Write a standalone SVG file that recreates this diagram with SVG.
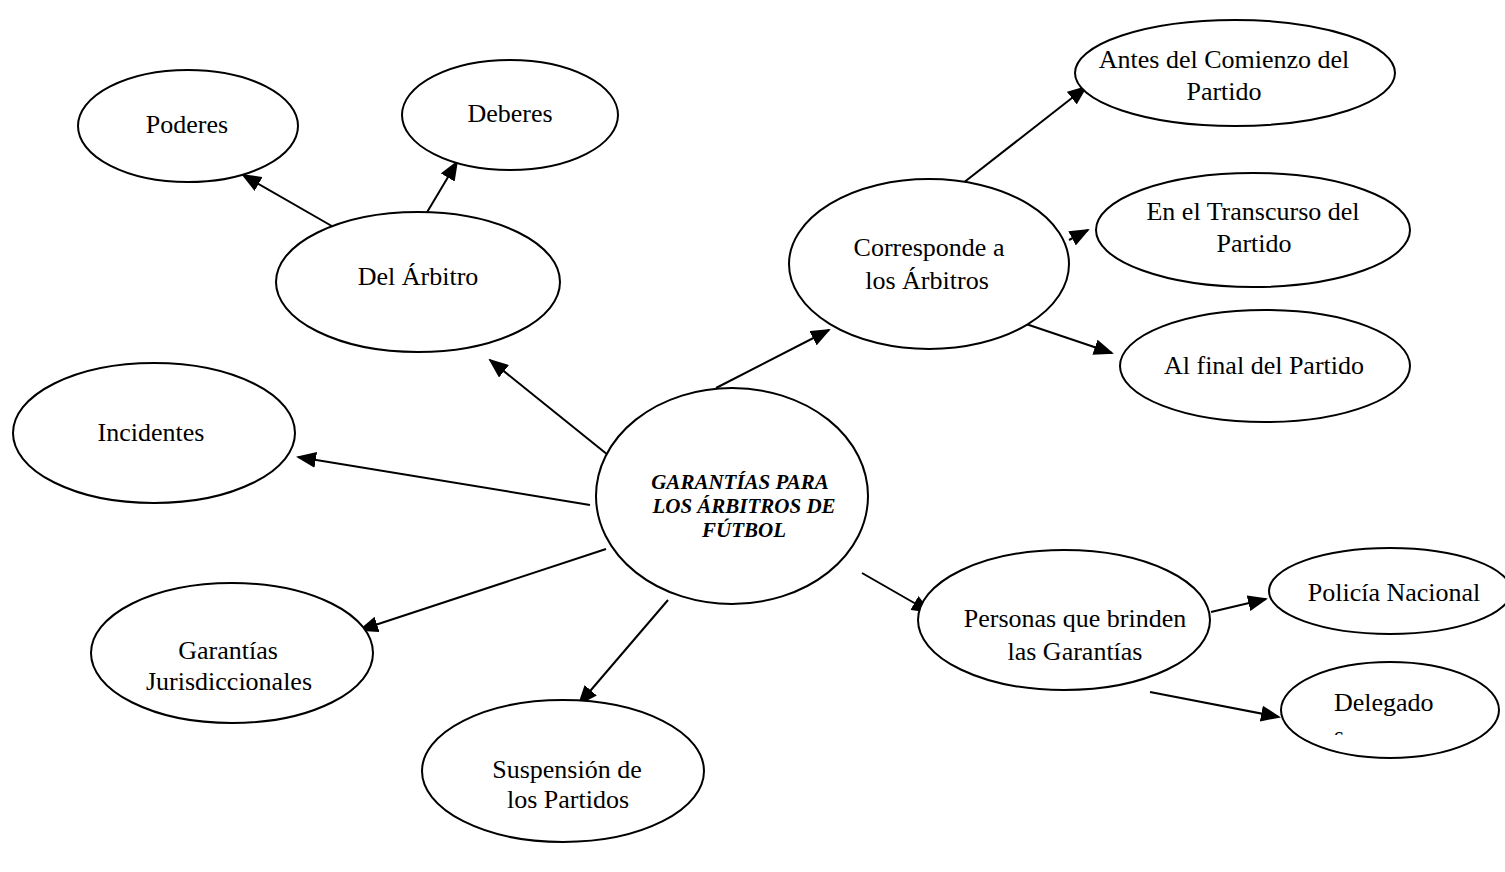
<svg xmlns="http://www.w3.org/2000/svg" width="1505" height="872" viewBox="0 0 1505 872">
<style>
.n ellipse{fill:#fff;stroke:#000;stroke-width:2}
.t{font-family:"Liberation Serif","Times New Roman",serif;font-size:26px;fill:#000;text-anchor:middle}
.c{font-family:"Liberation Serif","Times New Roman",serif;font-size:21px;font-weight:bold;font-style:italic;fill:#000;text-anchor:middle}
#edges line{stroke:#000;stroke-width:2;marker-end:url(#ah)}
</style>
<defs>
<marker id="ah" markerWidth="10" markerHeight="8" refX="9" refY="4" orient="auto" markerUnits="strokeWidth">
<path d="M0,0 L10,4 L0,8 Z" fill="#000"/>
</marker>
<clipPath id="delclip"><rect x="1280" y="660" width="220" height="75"/></clipPath>
</defs>
<rect width="1505" height="872" fill="#fff"/>
<g id="edges">
<line x1="337" y1="229" x2="243" y2="175"/>
<line x1="423" y1="219" x2="457" y2="162"/>
<line x1="608" y1="455" x2="490" y2="360"/>
<line x1="590" y1="505" x2="298" y2="457"/>
<line x1="606" y1="549" x2="360" y2="630"/>
<line x1="668" y1="600" x2="579" y2="704"/>
<line x1="716" y1="388" x2="829" y2="330"/>
<line x1="958" y1="187" x2="1086" y2="87"/>
<line x1="1069" y1="240" x2="1088" y2="230"/>
<line x1="1026" y1="324" x2="1112" y2="353"/>
<line x1="862" y1="573" x2="930" y2="612"/>
<line x1="1211" y1="612" x2="1266" y2="599"/>
<line x1="1150" y1="692" x2="1279" y2="717"/>
</g>
<g id="center" class="n"><ellipse cx="732" cy="496" rx="136" ry="108"/>
<text class="c" x="740" y="489">GARANTÍAS PARA</text>
<text class="c" x="744" y="513">LOS ÁRBITROS DE</text>
<text class="c" x="744" y="537">FÚTBOL</text></g>
<g id="poderes" class="n"><ellipse cx="188" cy="126" rx="110" ry="56"/><text class="t" x="187" y="133">Poderes</text></g>
<g id="deberes" class="n"><ellipse cx="510" cy="115" rx="108" ry="55"/><text class="t" x="510" y="122">Deberes</text></g>
<g id="arbitro" class="n"><ellipse cx="418" cy="282" rx="142" ry="70"/><text class="t" x="418" y="285">Del Árbitro</text></g>
<g id="incidentes" class="n"><ellipse cx="154" cy="433" rx="141" ry="70"/><text class="t" x="151" y="441">Incidentes</text></g>
<g id="garantias" class="n"><ellipse cx="232" cy="653" rx="141" ry="70"/><text class="t" x="228" y="659">Garantías</text><text class="t" x="229" y="690">Jurisdiccionales</text></g>
<g id="suspension" class="n"><ellipse cx="563" cy="771" rx="141" ry="71"/><text class="t" x="567" y="778">Suspensión de</text><text class="t" x="568" y="808">los Partidos</text></g>
<g id="corresponde" class="n"><ellipse cx="929" cy="264" rx="140" ry="85"/><text class="t" x="929" y="256">Corresponde a</text><text class="t" x="927" y="289">los Árbitros</text></g>
<g id="antes" class="n"><ellipse cx="1235" cy="73" rx="160" ry="53"/><text class="t" x="1224" y="68">Antes del Comienzo del</text><text class="t" x="1224" y="100">Partido</text></g>
<g id="transcurso" class="n"><ellipse cx="1253" cy="230" rx="157" ry="57"/><text class="t" x="1253" y="220">En el Transcurso del</text><text class="t" x="1254" y="252">Partido</text></g>
<g id="final" class="n"><ellipse cx="1265" cy="366" rx="145" ry="56"/><text class="t" x="1264" y="374">Al final del Partido</text></g>
<g id="personas" class="n"><ellipse cx="1064" cy="620" rx="146" ry="70"/><text class="t" x="1075" y="627">Personas que brinden</text><text class="t" x="1075" y="660">las Garantías</text></g>
<g id="policia" class="n"><ellipse cx="1390" cy="591" rx="121" ry="43"/><text class="t" x="1394" y="601">Policía Nacional</text></g>
<g id="delegado" class="n"><ellipse cx="1390" cy="710" rx="109" ry="48"/>
<g clip-path="url(#delclip)"><text class="t" x="1334" y="711" style="text-anchor:start">Delegado</text><text class="t" x="1334" y="744" style="text-anchor:start">s</text></g></g>
</svg>
